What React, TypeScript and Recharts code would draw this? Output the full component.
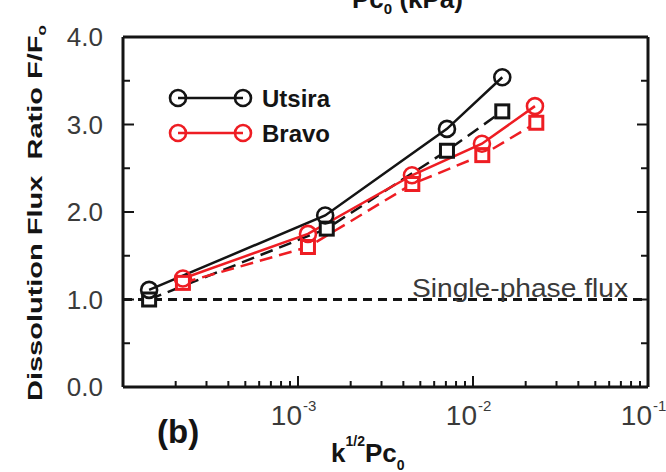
import { ComposedChart, Line, XAxis, YAxis, ReferenceLine } from 'recharts'

// values (x = k^1/2 Pc0, y = F/F0)
const utsiraCircleX = [1.41e-4, 1.43e-3, 7.1e-3, 1.47e-2]
const utsiraCircleY = [1.11, 1.96, 2.95, 3.54]
const utsiraSquareX = [1.41e-4, 1.46e-3, 7.1e-3, 1.47e-2]
const utsiraSquareY = [1.0, 1.81, 2.7, 3.15]
const bravoCircleX = [2.2e-4, 1.14e-3, 4.48e-3, 1.125e-2, 2.26e-2]
const bravoCircleY = [1.24, 1.75, 2.42, 2.78, 3.21]
const bravoSquareX = [2.2e-4, 1.14e-3, 4.5e-3, 1.13e-2, 2.3e-2]
const bravoSquareY = [1.19, 1.6, 2.32, 2.65, 3.02]

const legendNames = ['Utsira', 'Bravo']

const xDecades = [1e-4, 1e-3, 1e-2, 1e-1]
const xMantissas = [1, 2, 3, 4, 5, 6, 7, 8, 9]
const xLabelExps = [-3, -2, -1]
const yTicks = [0, 0.5, 1, 1.5, 2, 2.5, 3, 3.5, 4]
const yLabels = ['0.0', '1.0', '2.0', '3.0', '4.0']

const xTicks = xDecades.flatMap((d, i) =>
  i === xDecades.length - 1 ? [d] : xMantissas.map(m => m * d)
)

const toPoints = (xs: number[], ys: number[]) => xs.map((x, i) => ({ x, y: ys[i] }))

const BLACK = '#141414'
const RED = '#ee1d23'
const legendColors = [BLACK, RED]
const FONT = '"Liberation Sans", Arial, sans-serif'

const isDecade = (v: number) => {
  const e = Math.round(Math.log10(v))
  return Math.abs(v / Math.pow(10, e) - 1) < 1e-9
}

const BottomTick = (props: any) => {
  const { x, y, payload } = props
  const v = payload.value
  const exp = Math.round(Math.log10(v))
  const major = isDecade(v)
  return (
    <g>
      <line x1={x} y1={y} x2={x} y2={y - (major ? 11 : 6)} stroke={BLACK} strokeWidth={2} />
      {major && xLabelExps.includes(exp) && (
        <g fill="#3a3a3a" fontFamily={FONT}>
          <text x={x + 4} y={y + 38} textAnchor="end" fontSize={28}>10</text>
          <text x={x + 5} y={y + 24} fontSize={15}>{`-${Math.abs(exp)}`}</text>
        </g>
      )}
    </g>
  )
}

const TopTick = (props: any) => {
  const { x, y, payload } = props
  const major = isDecade(payload.value)
  return <line x1={x} y1={y} x2={x} y2={y + (major ? 11 : 6)} stroke={BLACK} strokeWidth={2} />
}

const LeftTick = (props: any) => {
  const { x, y, payload } = props
  const v = payload.value
  const major = Number.isInteger(v)
  return (
    <g>
      <line x1={x} y1={y} x2={x + (major ? 11 : 7)} y2={y} stroke={BLACK} strokeWidth={2} />
      {major && (
        <text x={x - 20} y={y + 9} textAnchor="end" fontSize={26} fill="#3a3a3a" fontFamily={FONT}>
          {yLabels[v]}
        </text>
      )}
    </g>
  )
}

const RightTick = (props: any) => {
  const { x, y, payload } = props
  const major = Number.isInteger(payload.value)
  return <line x1={x} y1={y} x2={x - (major ? 11 : 7)} y2={y} stroke={BLACK} strokeWidth={2} />
}

const circleDot = (color: string) => (p: any) => (
  <circle key={`c-${p.index}`} cx={p.cx} cy={p.cy} r={8} fill="none" stroke={color} strokeWidth={2.6} />
)

const squareDot = (color: string) => (p: any) => (
  <rect key={`s-${p.index}`} x={p.cx - 6.5} y={p.cy - 6.5} width={13} height={13} fill="#fff" stroke={color} strokeWidth={3} />
)

const axisLine = { stroke: BLACK, strokeWidth: 3 }

export default function App() {
  return (
    <div style={{ position: 'absolute', left: 0, top: 0, width: 666, height: 472, background: '#fff' }}>
      <ComposedChart width={666} height={472} margin={{ top: 27, right: 8, bottom: 45, left: 63 }}>
        <XAxis
          xAxisId="bottom"
          dataKey="x"
          type="number"
          scale="log"
          domain={[1e-4, 1e-1]}
          allowDataOverflow
          ticks={xTicks}
          interval={0}
          tickSize={0}
          tickMargin={0}
          tick={<BottomTick />}
          axisLine={axisLine}
          height={40}
        />
        <XAxis
          xAxisId="top"
          orientation="top"
          type="number"
          scale="log"
          domain={[1e-4, 1e-1]}
          allowDataOverflow
          ticks={xTicks}
          interval={0}
          tickSize={0}
          tickMargin={0}
          tick={<TopTick />}
          axisLine={axisLine}
          height={10}
        />
        <YAxis
          yAxisId="left"
          type="number"
          domain={[0, 4]}
          allowDataOverflow
          ticks={yTicks}
          interval={0}
          tickSize={0}
          tickMargin={0}
          tick={<LeftTick />}
          axisLine={axisLine}
          width={60}
        />
        <YAxis
          yAxisId="right"
          orientation="right"
          type="number"
          domain={[0, 4]}
          allowDataOverflow
          ticks={yTicks}
          interval={0}
          tickSize={0}
          tickMargin={0}
          tick={<RightTick />}
          axisLine={axisLine}
          width={10}
        />
        <ReferenceLine
          xAxisId="bottom"
          yAxisId="left"
          y={1}
          stroke={BLACK}
          strokeWidth={3}
          strokeDasharray="9 6"
          label={(p: any) => (
            <text
              x={p.viewBox.x + p.viewBox.width - 20}
              y={p.viewBox.y - 3}
              textAnchor="end"
              fontSize={26}
              fill="#3a3a3a"
              fontFamily={FONT}
              textLength={216}
              lengthAdjust="spacingAndGlyphs"
            >
              Single-phase flux
            </text>
          )}
        />
        <Line
          xAxisId="bottom"
          yAxisId="left"
          data={toPoints(utsiraSquareX, utsiraSquareY)}
          dataKey="y"
          name="Utsira (sq)"
          stroke={BLACK}
          strokeWidth={2.5}
          strokeDasharray="13 7"
          dot={squareDot(BLACK)}
          isAnimationActive={false}
        />
        <Line
          xAxisId="bottom"
          yAxisId="left"
          data={toPoints(bravoSquareX, bravoSquareY)}
          dataKey="y"
          name="Bravo (sq)"
          stroke={RED}
          strokeWidth={2.5}
          strokeDasharray="13 7"
          dot={squareDot(RED)}
          isAnimationActive={false}
        />
        <Line
          xAxisId="bottom"
          yAxisId="left"
          data={toPoints(utsiraCircleX, utsiraCircleY)}
          dataKey="y"
          name="Utsira"
          stroke={BLACK}
          strokeWidth={2.5}
          dot={circleDot(BLACK)}
          isAnimationActive={false}
        />
        <Line
          xAxisId="bottom"
          yAxisId="left"
          data={toPoints(bravoCircleX, bravoCircleY)}
          dataKey="y"
          name="Bravo"
          stroke={RED}
          strokeWidth={2.5}
          dot={circleDot(RED)}
          isAnimationActive={false}
        />
      </ComposedChart>
      <svg
        width={666}
        height={472}
        style={{ position: 'absolute', left: 0, top: 0, pointerEvents: 'none' }}
        fontFamily={FONT}
        fontWeight="bold"
        fill={BLACK}
      >
        {/* legend */}
        {legendNames.map((name, i) => (
          <g key={name} transform={`translate(165, ${82 + i * 35})`}>
            <line x1={13} y1={16} x2={78} y2={16} stroke={legendColors[i]} strokeWidth={2.5} />
            <circle cx={13} cy={16} r={8} fill="none" stroke={legendColors[i]} strokeWidth={2.6} />
            <circle cx={78} cy={16} r={8} fill="none" stroke={legendColors[i]} strokeWidth={2.6} />
            <text x={97} y={25} fontSize={24}>{name}</text>
          </g>
        ))}
        <text x={352} y={8} fontSize={26}>
          Pc<tspan fontSize={15} dy={6}>0</tspan>
          <tspan dy={-6}> (kPa)</tspan>
        </text>
        <text
          transform="translate(42, 401) rotate(-90) scale(1, 0.72)"
          fontSize={29}
          style={{ whiteSpace: 'pre' }}
        >
          {'Dissolution Flux  Ratio F/F'}
          <tspan fontSize={17} dy={6}>o</tspan>
        </text>
        <text x={157} y={443} fontSize={33}>(b)</text>
        <text x={331} y={462} fontSize={26}>
          k<tspan fontSize={14} dy={-16}>1/2</tspan>
          <tspan dy={16}>Pc</tspan>
          <tspan fontSize={14} dy={8}>0</tspan>
        </text>
      </svg>
    </div>
  )
}
